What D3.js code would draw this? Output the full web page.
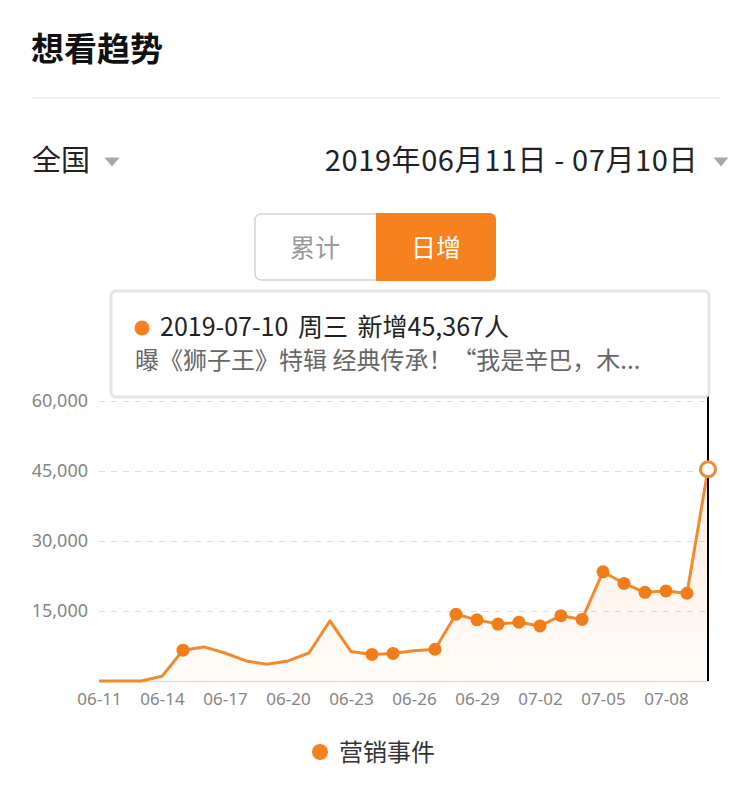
<!DOCTYPE html>
<html>
<head>
<meta charset="utf-8">
<script src="https://cdn.jsdelivr.net/npm/d3@7"></script>
<style>
  html, body { margin: 0; padding: 0; background: #fff; }
  svg { display: block; font-family: "Noto Sans CJK SC", "Noto Sans", sans-serif; }
</style>
</head>
<body>
<div id="chart"></div>
<script>
// daily new "want to see" counts, 2019-06-11 .. 2019-07-10
const dates = ["06-11","06-12","06-13","06-14","06-15","06-16","06-17","06-18","06-19","06-20",
               "06-21","06-22","06-23","06-24","06-25","06-26","06-27","06-28","06-29","06-30",
               "07-01","07-02","07-03","07-04","07-05","07-06","07-07","07-08","07-09","07-10"];
const values = [0, 0, 0, 1000, 6600, 7300, 6000, 4300, 3600, 4300,
                6000, 12900, 6300, 5700, 5900, 6500, 6800, 14300, 13100, 12200,
                12600, 11800, 14000, 13200, 23400, 20900, 19000, 19300, 18800, 45367];
// days with a marketing event (营销事件)
const eventDays = ["06-15","06-24","06-25","06-27","06-28","06-29","06-30","07-01",
                   "07-02","07-03","07-04","07-05","07-06","07-07","07-08","07-09"];
const yTicks = [15000, 30000, 45000, 60000];
const xTicks = ["06-11","06-14","06-17","06-20","06-23","06-26","06-29","07-02","07-05","07-08"];
const activeDay = "07-10";

const W = 750, H = 797;
const orange = "#f5821f";
const data = dates.map((d, i) => ({ date: d, value: values[i] }));

const svg = d3.select("#chart").append("svg")
  .attr("width", W).attr("height", H);

// ---- header ----
svg.append("text").attr("x", 31).attr("y", 61)
  .attr("font-size", 33).attr("font-weight", 700).attr("fill", "#111")
  .text("想看趋势");
svg.append("line").attr("x1", 32).attr("x2", 720).attr("y1", 98).attr("y2", 98)
  .attr("stroke", "#ececec").attr("stroke-width", 1.5);

svg.append("text").attr("x", 32).attr("y", 171)
  .attr("font-size", 29).attr("fill", "#222").text("全国");
svg.append("text").attr("x", 698).attr("y", 171).attr("text-anchor", "end")
  .attr("font-size", 29).attr("letter-spacing", 0.6).attr("fill", "#222")
  .text("2019年06月11日 - 07月10日");

const tri = (cx, cy) => `M${cx - 7.5},${cy - 4.5}L${cx + 7.5},${cy - 4.5}L${cx},${cy + 4.5}Z`;
svg.append("path").attr("d", tri(112, 162)).attr("fill", "#a8a8a8");
svg.append("path").attr("d", tri(721, 162)).attr("fill", "#a8a8a8");

// toggle buttons
const tg = svg.append("g");
tg.append("rect").attr("x", 255).attr("y", 214).attr("width", 240).attr("height", 66)
  .attr("rx", 6).attr("fill", "#fff").attr("stroke", "#d4d4d4").attr("stroke-width", 1.5);
tg.append("path")
  .attr("d", "M376,213 H490 a6,6 0 0 1 6,6 V275 a6,6 0 0 1 -6,6 H376 Z")
  .attr("fill", orange);
tg.append("text").attr("x", 315).attr("y", 257).attr("text-anchor", "middle")
  .attr("font-size", 25).attr("fill", "#9a9a9a").text("累计");
tg.append("text").attr("x", 436).attr("y", 257).attr("text-anchor", "middle")
  .attr("font-size", 25).attr("fill", "#fff").text("日增");

// ---- chart ----
const x = d3.scalePoint().domain(dates).range([99, 708]);
const y = d3.scaleLinear().domain([0, 60000]).range([681, 401]);

// grid lines
svg.append("g")
  .attr("transform", "translate(99,0)")
  .call(d3.axisLeft(y).tickValues(yTicks).tickSize(-609).tickFormat(""))
  .call(g => g.select(".domain").remove())
  .call(g => g.selectAll("line").attr("stroke", "#dcdcdc").attr("stroke-dasharray", "6,6"));

// y labels
svg.append("g")
  .attr("transform", "translate(88,0)")
  .call(d3.axisLeft(y).tickValues(yTicks).tickSize(0).tickPadding(0).tickFormat(d3.format(",")))
  .call(g => g.select(".domain").remove())
  .call(g => g.attr("font-size", null).attr("font-family", null))
  .call(g => g.selectAll("text").attr("font-size", 18).attr("fill", "#858585")
    .attr("font-family", "'Noto Sans', sans-serif"));

// area gradient
const defs = svg.append("defs");
const grad = defs.append("linearGradient").attr("id", "fillGrad")
  .attr("x1", 0).attr("y1", 0).attr("x2", 0).attr("y2", 1);
grad.append("stop").attr("offset", "0%").attr("stop-color", orange).attr("stop-opacity", 0.14);
grad.append("stop").attr("offset", "100%").attr("stop-color", orange).attr("stop-opacity", 0.03);

svg.append("path").datum(data)
  .attr("d", d3.area().x(d => x(d.date)).y0(y(0)).y1(d => y(d.value)))
  .attr("fill", "url(#fillGrad)");

// baseline / x axis
svg.append("g")
  .attr("transform", `translate(0,${y(0)})`)
  .call(d3.axisBottom(x).tickValues(xTicks).tickSize(0).tickPadding(12))
  .call(g => g.attr("font-size", null).attr("font-family", null))
  .call(g => g.select(".domain").attr("stroke", "#dedede").attr("stroke-width", 1.5))
  .call(g => g.selectAll("text").attr("font-size", 17).attr("fill", "#858585")
    .attr("font-family", "'Noto Sans', sans-serif"));

svg.append("path").datum(data)
  .attr("d", d3.line().x(d => x(d.date)).y(d => y(d.value)))
  .attr("fill", "none").attr("stroke", "#f08a2c").attr("stroke-width", 3)
  .attr("stroke-linejoin", "round");

// crosshair on the active day
svg.append("line")
  .attr("x1", x(activeDay)).attr("x2", x(activeDay))
  .attr("y1", 396).attr("y2", y(0))
  .attr("stroke", "#000").attr("stroke-width", 2);

// event markers
svg.append("g").selectAll("circle")
  .data(data.filter(d => eventDays.includes(d.date)))
  .join("circle")
  .attr("cx", d => x(d.date)).attr("cy", d => y(d.value)).attr("r", 6.5)
  .attr("fill", "#f07d1a");

const act = data.find(d => d.date === activeDay);
svg.append("circle").attr("cx", x(act.date)).attr("cy", y(act.value)).attr("r", 7.5)
  .attr("fill", "#fff").attr("stroke", "#f08a2c").attr("stroke-width", 3);

// tooltip
const tip = svg.append("g");
tip.append("rect").attr("x", 111).attr("y", 291).attr("width", 598).attr("height", 106)
  .attr("rx", 5).attr("fill", "#fff").attr("stroke", "#e3e3e3").attr("stroke-width", 3);
tip.append("circle").attr("cx", 142).attr("cy", 328).attr("r", 7.5).attr("fill", orange);
tip.append("text").attr("x", 160).attr("y", 336).attr("font-size", 25)
  .attr("word-spacing", 4).attr("fill", "#222")
  .text(`2019-${act.date} 周三 新增${d3.format(",")(act.value)}人`);
tip.append("text").attr("x", 135).attr("y", 369).attr("font-size", 24).attr("fill", "#666")
  .text("曝《狮子王》特辑 经典传承！“我是辛巴，木...");

// legend
svg.append("circle").attr("cx", 320).attr("cy", 752).attr("r", 8).attr("fill", orange);
svg.append("text").attr("x", 339).attr("y", 761).attr("font-size", 24).attr("fill", "#333")
  .text("营销事件");
</script>
</body>
</html>
